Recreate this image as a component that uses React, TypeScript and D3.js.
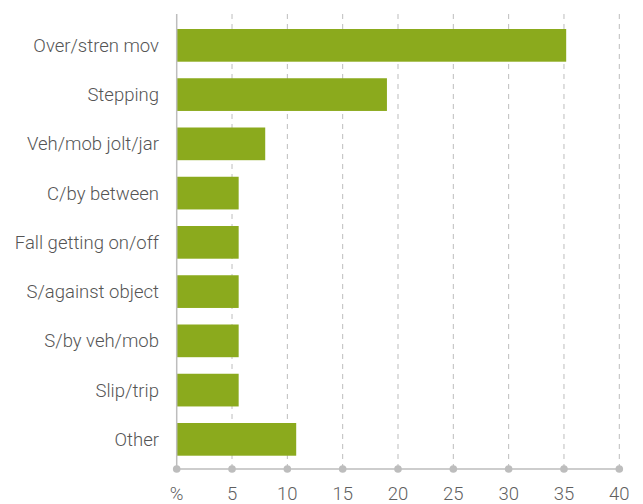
import React from "react";
import * as d3 from "d3";

const categories = [
  "Over/stren mov",
  "Stepping",
  "Veh/mob jolt/jar",
  "C/by between",
  "Fall getting on/off",
  "S/against object",
  "S/by veh/mob",
  "Slip/trip",
  "Other",
];
const values = [35.2, 19.0, 8.0, 5.6, 5.6, 5.6, 5.6, 5.6, 10.8];
const tickValues = [0, 5, 10, 15, 20, 25, 30, 35, 40];
const tickLabels = ["%", "5", "10", "15", "20", "25", "30", "35", "40"];

const W = 643;
const H = 504;
const left = 176.7;
const right = 619.3;
const top = 14;
const axisY = 469;

export default function App() {
  const x = d3.scaleLinear().domain([0, 40]).range([left, right]);
  const step = 49.25;
  const pad = 0.336;
  const first = 29;
  const y = d3
    .scaleBand<string>()
    .domain(categories)
    .range([0, step * categories.length])
    .paddingInner(pad)
    .paddingOuter(pad / 2);
  const r0 = first - y(categories[0])!;
  y.range([r0, r0 + step * categories.length]);

  const font = "Roboto, sans-serif";
  return (
    <svg width={W} height={H} style={{ position: "absolute", left: 0, top: 0 }}>
      {tickValues.slice(1).map((t) => (
        <line
          key={"g" + t}
          x1={x(t)}
          x2={x(t)}
          y1={top}
          y2={axisY}
          stroke="#bdbdbd"
          strokeWidth={1}
          strokeDasharray="5,5"
        />
      ))}
      {categories.map((c, i) => (
        <rect
          key={c}
          x={x(0)}
          y={y(c)}
          width={x(values[i]) - x(0)}
          height={y.bandwidth()}
          fill="#8baa1d"
        />
      ))}
      <line x1={x(0)} x2={x(0)} y1={top} y2={axisY} stroke="#bdbdbd" strokeWidth={1.5} />
      <line x1={x(0)} x2={x(40)} y1={axisY} y2={axisY} stroke="#bdbdbd" strokeWidth={1.5} />
      {tickValues.map((t, i) => (
        <g key={"t" + t}>
          <circle cx={x(t)} cy={axisY} r={3.8} fill="#bdbdbd" />
          <text
            x={x(t)}
            y={500}
            textAnchor="middle"
            fontFamily={font}
            fontWeight={300}
            fontSize={18.5}
            fill="#5f5f5f"
          >
            {tickLabels[i]}
          </text>
        </g>
      ))}
      {categories.map((c) => (
        <text
          key={"l" + c}
          x={159}
          y={y(c)! + y.bandwidth() / 2}
          dy="0.35em"
          textAnchor="end"
          fontFamily={font}
          fontWeight={300}
          fontSize={18.5}
          fill="#555"
        >
          {c}
        </text>
      ))}
    </svg>
  );
}
